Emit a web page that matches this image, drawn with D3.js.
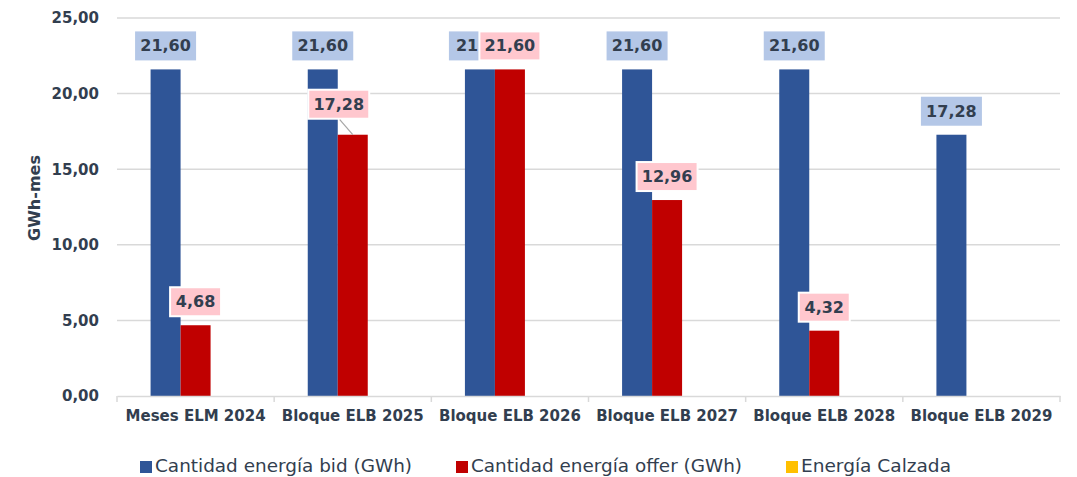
<!DOCTYPE html>
<html><head><meta charset="utf-8">
<script src="https://cdn.jsdelivr.net/npm/d3@7"></script>
<style>body{margin:0;background:#fff}svg{display:block}text{font-family:"DejaVu Sans",sans-serif}</style>
</head><body><svg id="c" width="1077" height="477"></svg>
<script>
const categories = ["Meses ELM 2024","Bloque ELB 2025","Bloque ELB 2026","Bloque ELB 2027","Bloque ELB 2028","Bloque ELB 2029"];
const seriesNames = ["Cantidad energía bid (GWh)","Cantidad energía offer (GWh)","Energía Calzada"];
const bidValues = [21.60,21.60,21.60,21.60,21.60,17.28];
const offerValues = [4.68,17.28,21.60,12.96,4.32,0];
const calzadaValues = [0,0,0,0,0,0];
const yTicks = [0,5,10,15,20,25];

const colors = ["#2f5597","#c00000","#ffc000"];
const labelBg = ["#b4c7e7","#ffc7ce"];
const txt = "#323e4f";
const fmt = v => d3.format(".2f")(v).replace(".", ",");

const svg = d3.select("#c");
const m = {l:117, r:1060, t:18, b:396};
const x = d3.scaleBand().domain(categories).range([m.l, m.r]);
const y = d3.scaleLinear().domain([0,25]).range([m.b, m.t]);
const barW = 30;
const inner = d3.scaleBand().domain([0,1,2]).range([0, barW*3]);

// gridlines
svg.append("g").selectAll("line").data(yTicks.filter(d=>d>0)).join("line")
  .attr("x1", m.l).attr("x2", m.r).attr("y1", d=>y(d)).attr("y2", d=>y(d))
  .attr("stroke","#d9d9d9").attr("stroke-width",1.5);

// y axis labels
const yAxis = d3.axisLeft(y).tickValues(yTicks).tickFormat(fmt).tickSize(0).tickPadding(18);
const ya = svg.append("g").attr("transform",`translate(${m.l},0)`).call(yAxis);
ya.select(".domain").remove();
ya.selectAll("text").attr("fill",txt).style("font-size","15px").style("font-weight","bold").style("font-family","DejaVu Sans");

// axis title
svg.append("text").attr("transform",`translate(40,198) rotate(-90)`)
  .attr("text-anchor","middle").attr("fill",txt).style("font-size","16px").style("font-weight","bold").text("GWh-mes");

// bars
const series = [bidValues, offerValues, calzadaValues];
const groups = svg.append("g");
series.forEach((vals, si) => {
  groups.append("g").selectAll("rect").data(vals.map((v,i)=>({v, c:categories[i]}))).join("rect")
    .attr("x", d => x(d.c) + (x.bandwidth()-barW*3)/2 + inner(si))
    .attr("width", barW)
    .attr("y", d => y(d.v))
    .attr("height", d => y(0)-y(d.v))
    .attr("fill", colors[si]);
});

// x axis
const xa = svg.append("g").attr("transform",`translate(0,${m.b})`)
  .call(d3.axisBottom(x).tickSize(0).tickPadding(14));
xa.select(".domain").attr("stroke","#d9d9d9").attr("stroke-width",1.5);
xa.selectAll("text").attr("fill",txt).style("font-size","15px").style("font-weight","bold").style("font-family","DejaVu Sans");
svg.append("g").selectAll("line").data(d3.range(categories.length+1)).join("line")
  .attr("x1", i => m.l + i*x.step()).attr("x2", i => m.l + i*x.step())
  .attr("y1", m.b).attr("y2", m.b+6).attr("stroke","#d9d9d9").attr("stroke-width",1.5);

// labels
function label(si, i, v, dx, dy) {
  const cx = x(categories[i]) + (x.bandwidth()-barW*3)/2 + inner(si) + barW/2 + dx;
  const bw = v >= 10 ? 61 : 51, bh = 29;
  const by = y(v) - 9 - bh + dy;
  const g = svg.append("g");
  g.append("rect").attr("x", cx-bw/2).attr("y", by).attr("width", bw).attr("height", bh)
    .attr("fill", labelBg[si]).attr("stroke", si===1 ? "#fff" : "none").attr("stroke-width", 2);
  g.append("text").attr("x", cx).attr("y", by+bh/2+1).attr("text-anchor","middle").attr("dominant-baseline","middle")
    .attr("fill", txt).style("font-size","16px").style("font-weight","bold").text(fmt(v));
  return {cx, by, bw, bh};
}
bidValues.forEach((v,i)=>{ if (i!==2) label(0,i,v,0,0); });
// partially hidden bid label (covered by offer label)
(function(){
  const i=2, v=bidValues[2];
  const cx = x(categories[i]) + (x.bandwidth()-barW*3)/2 + barW/2;
  const by = y(v) - 9 - 29;
  svg.append("rect").attr("x", cx-31).attr("y", by).attr("width", 61).attr("height", 29).attr("fill", labelBg[0]);
  svg.append("text").attr("x", cx-24).attr("y", by+15.5).attr("dominant-baseline","middle")
    .attr("fill", txt).style("font-size","16px").style("font-weight","bold").text("21");
})();
offerValues.forEach((v,i)=>{
  if (v<=0) return;
  const dx = i===1 ? -14 : 0, dy = i===1 ? -7 : 0;
  const r = label(1,i,v,dx,dy);
  if (i===1) {
    const bx = x(categories[i]) + (x.bandwidth()-barW*3)/2 + inner(1);
    svg.append("line").attr("x1", r.cx+1).attr("y1", r.by+r.bh+1).attr("x2", bx+15).attr("y2", y(v))
      .attr("stroke","#a6a6a6").attr("stroke-width",1.2);
  }
});

// legend
const legX = [140, 456, 786];
const legW = [257, 271, 150];
const lg = svg.append("g");
seriesNames.forEach((n,i)=>{
  lg.append("rect").attr("x", legX[i]).attr("y", 461).attr("width", 12).attr("height", 12).attr("fill", colors[i]);
  lg.append("text").attr("x", legX[i]+15).attr("y", 467).attr("dominant-baseline","middle")
    .attr("textLength", legW[i]).attr("lengthAdjust","spacingAndGlyphs")
    .attr("fill", txt).style("font-size","17px").text(n);
});
</script></body></html>
